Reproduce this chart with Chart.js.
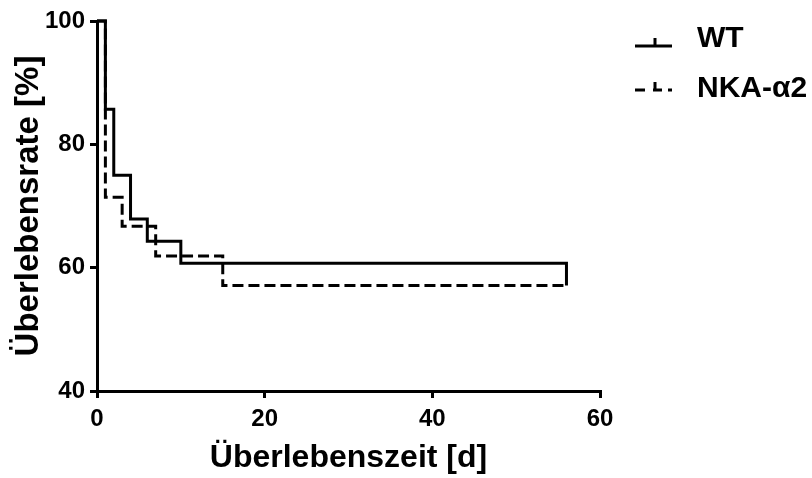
<!DOCTYPE html>
<html>
<head>
<meta charset="utf-8">
<script src="https://cdn.jsdelivr.net/npm/chart.js@4/dist/chart.umd.min.js"></script>
<style>
  html, body { margin: 0; padding: 0; background: #fff; }
  #wrap { width: 812px; height: 478px; }
</style>
</head>
<body>
<div id="wrap"><canvas id="km" width="812" height="478"></canvas></div>
<script>
'use strict'

// Kaplan-Meier steps
const wtDays = [0, 1, 2, 4, 6, 10, 56, 56]
const wtSurvival = [100, 85.7, 75, 67.9, 64.3, 60.7, 60.7, 57.1]
const nkaDays = [0, 1, 3, 7, 15, 56]
const nkaSurvival = [100, 71.4, 66.7, 61.9, 57.1, 57.1]

const seriesLabels = ['WT', 'NKA-\u03b12']
const xTicks = [0, 20, 40, 60]
const yTicks = [40, 60, 80, 100]

;(() => {
  const sans = '"Liberation Sans", Arial, sans-serif'

  const toPoints = (xs, ys) => xs.map((x, i) => ({ x, y: ys[i] }))

  const axisStyle = {
    grid: {
      display: true,
      drawOnChartArea: false,
      drawTicks: true,
      tickLength: 7,
      color: '#000',
      lineWidth: 3
    },
    border: { display: true, color: '#000', width: 3 }
  }

  // legend drawn by hand, GraphPad style
  const kmLegend = {
    id: 'kmLegend',
    afterDraw(chart) {
      const ctx = chart.ctx
      ctx.save()
      ctx.strokeStyle = '#000'
      ctx.lineWidth = 3
      ctx.lineCap = 'butt'

      // WT: solid line with censor tick
      ctx.beginPath()
      ctx.moveTo(635, 46)
      ctx.lineTo(672, 46)
      ctx.moveTo(655, 46)
      ctx.lineTo(655, 38)
      ctx.stroke()

      // NKA: dashed
      ctx.beginPath()
      ctx.moveTo(635, 90)
      ctx.lineTo(645, 90)
      ctx.moveTo(653, 90)
      ctx.lineTo(662, 90)
      ctx.moveTo(655, 90)
      ctx.lineTo(655, 82)
      ctx.moveTo(668, 90)
      ctx.lineTo(672, 90)
      ctx.stroke()

      ctx.fillStyle = '#000'
      ctx.font = 'bold 30px ' + sans
      ctx.textBaseline = 'alphabetic'
      ctx.textAlign = 'left'
      ctx.fillText(seriesLabels[0], 697, 47)
      ctx.fillText(seriesLabels[1], 697, 97)
      ctx.restore()
    }
  }

  const lineBase = {
    borderColor: '#000',
    borderWidth: 3,
    stepped: 'before',
    pointRadius: 0,
    fill: false,
    clip: false,
    borderJoinStyle: 'miter'
  }

  new Chart(document.getElementById('km'), {
    type: 'line',
    data: {
      datasets: [
        {
          ...lineBase,
          label: seriesLabels[0],
          data: toPoints(wtDays, wtSurvival)
        },
        {
          ...lineBase,
          label: seriesLabels[1],
          data: toPoints(nkaDays, nkaSurvival),
          borderDash: [11, 5]
        }
      ]
    },
    options: {
      responsive: false,
      animation: false,
      layout: { padding: { top: 21, right: 212, left: 0, bottom: 0 } },
      scales: {
        x: {
          type: 'linear',
          min: 0,
          max: 60,
          afterBuildTicks: (axis) => (axis.ticks = xTicks.map((v) => ({ value: v }))),
          afterFit: (axis) => (axis.height = 87),
          ticks: {
            color: '#000',
            padding: 7,
            font: { family: sans, size: 24, weight: 'bold' }
          },
          title: {
            display: true,
            text: '\u00dcberlebenszeit [d]',
            color: '#000',
            padding: { top: 0, bottom: 4 },
            font: { family: sans, size: 32, weight: 'bold', lineHeight: 1 }
          },
          ...axisStyle
        },
        y: {
          type: 'linear',
          min: 40,
          max: 100,
          afterBuildTicks: (axis) => (axis.ticks = yTicks.map((v) => ({ value: v }))),
          afterFit: (axis) => (axis.width = 97),
          ticks: {
            color: '#000',
            padding: 5,
            font: { family: sans, size: 24, weight: 'bold' }
          },
          title: {
            display: true,
            text: '\u00dcberlebensrate [%]',
            color: '#000',
            padding: { top: 12, bottom: 0 },
            font: { family: sans, size: 33, weight: 'bold', lineHeight: 1 }
          },
          ...axisStyle
        }
      },
      plugins: {
        legend: { display: false },
        tooltip: { enabled: false }
      }
    },
    plugins: [kmLegend]
  })
})()
</script>
</body>
</html>
